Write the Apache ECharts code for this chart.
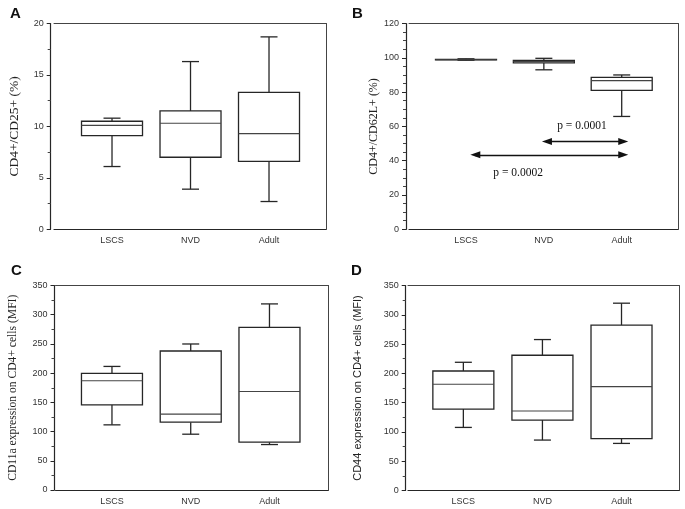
<!DOCTYPE html>
<html>
<head>
<meta charset="utf-8">
<script src="https://cdn.jsdelivr.net/npm/echarts@6/dist/echarts.min.js"></script>
<style>
  html, body { margin: 0; padding: 0; background: #fff; }
  #chart { width: 685px; height: 509px; }
</style>
</head>
<body>
<div id="chart"></div>
<script>
// ---------- data ----------
const categories = ['LSCS', 'NVD', 'Adult'];
// each row: [low whisker, Q1, median, Q3, high whisker]
const boxA = [[6.1, 9.1, 10.1, 10.5, 10.8], [3.9, 7.0, 10.3, 11.5, 16.3], [2.7, 6.6, 9.3, 13.3, 18.7]];
const boxB = [[98.6, 98.8, 98.9, 99.0, 99.4], [93.0, 97.0, 97.8, 98.5, 99.7], [65.8, 81.0, 86.7, 88.6, 90.0]];
const boxC = [[111.5, 145.8, 187.0, 199.5, 211.5], [95.5, 116.0, 129.8, 237.9, 249.9], [77.8, 81.8, 168.7, 278.4, 318.5]];
const boxD = [[107.7, 139.1, 181.3, 204.0, 218.9], [86.1, 120.3, 135.7, 230.9, 257.7], [80.4, 88.4, 177.3, 282.2, 319.8]];
const yMaxA = 20, yStepA = 5;
const yMaxB = 120, yStepB = 20;
const yMaxC = 350, yStepC = 50;
const yMaxD = 350, yStepD = 50;
const titleA = 'CD4+/CD25+ (%)';
const titleB = 'CD4+/CD62L+ (%)';
const titleC = 'CD11a expression on CD4+ cells (MFI)';
const titleD = 'CD44 expression on CD4+ cells (MFI)';
const letters = ['A', 'B', 'C', 'D'];
// panel B significance annotations (data coords)
const arrowsB = [[[2.04, 51.2], [3.02, 51.2]], [[1.12, 43.4], [3.02, 43.4]]];
const pTextsB = [[2.49, 60.0, 'p = 0.0001'], [1.67, 33.1, 'p = 0.0002']];

// ---------- layout ----------
const SERIF = 'Liberation Serif, Times New Roman, serif';
const SANS = 'Liberation Sans, Arial, sans-serif';
const panels = [
  { box: boxA, yMax: yMaxA, step: yStepA, minor: 2, title: titleA, tSize: 13.5, tFont: SERIF,
    grid: { left: 54, top: 23.5, width: 272, height: 205.8 }, xMin: 0.261, xMax: 3.726, off: 3.3, gap: 29.5, letter: [10, 6] },
  { box: boxB, yMax: yMaxB, step: yStepB, minor: 4, title: titleB, tSize: 12, tFont: SERIF,
    grid: { left: 409, top: 23.5, width: 269, height: 205.8 }, xMin: 0.268, xMax: 3.723, off: 3, gap: 25.5, letter: [352, 6] },
  { box: boxC, yMax: yMaxC, step: yStepC, minor: 2, title: titleC, tSize: 11.6, tFont: SERIF,
    grid: { left: 55.5, top: 285.5, width: 272.8, height: 204.5 }, xMin: 0.283, xMax: 3.747, off: 1, gap: 35.5, letter: [11, 263] },
  { box: boxD, yMax: yMaxD, step: yStepD, minor: 2, title: titleD, tSize: 11, tFont: SANS,
    grid: { left: 408, top: 285.5, width: 271, height: 205 }, xMin: 0.30, xMax: 3.727, off: 2.3, gap: 42, letter: [351, 263] }
];

const LINE = '#262626';
const tickFont = { fontFamily: SANS, fontSize: 9, color: '#333' };

function renderBox(params, api) {
  const x = api.value(0);
  const low = api.value(1), q1 = api.value(2), med = api.value(3), q3 = api.value(4), high = api.value(5);
  const c = api.coord([x, med]);
  const pLow = api.coord([x, low])[1], pQ1 = api.coord([x, q1])[1], pMed = c[1];
  const pQ3 = api.coord([x, q3])[1], pHigh = api.coord([x, high])[1];
  const hw = 30.5, cw = 8.5, cx = c[0];
  const st = { stroke: LINE, lineWidth: 1.3, fill: null };
  return {
    type: 'group',
    children: [
      { type: 'line', shape: { x1: cx, y1: pQ3, x2: cx, y2: pHigh }, style: st },
      { type: 'line', shape: { x1: cx, y1: pQ1, x2: cx, y2: pLow }, style: st },
      { type: 'line', shape: { x1: cx - cw, y1: pHigh, x2: cx + cw, y2: pHigh }, style: st },
      { type: 'line', shape: { x1: cx - cw, y1: pLow, x2: cx + cw, y2: pLow }, style: st },
      { type: 'rect', shape: { x: cx - hw, y: pQ3, width: 2 * hw, height: pQ1 - pQ3 }, style: { stroke: LINE, lineWidth: 1.3, fill: '#fff' } },
      { type: 'line', shape: { x1: cx - hw, y1: pMed, x2: cx + hw, y2: pMed }, style: { stroke: '#444', lineWidth: 1.1 } }
    ]
  };
}

const grid = [], xAxis = [], yAxis = [], series = [], graphic = [];
panels.forEach((p, i) => {
  grid.push(Object.assign({ containLabel: false }, p.grid));
  xAxis.push({
    type: 'value', gridIndex: i, min: p.xMin, max: p.xMax,
    splitLine: { show: false },
    axisLine: { show: true, lineStyle: { color: LINE, width: 1.2 } },
    axisTick: { show: false },
    axisLabel: Object.assign({ customValues: [1, 2, 3], margin: 7, formatter: v => categories[Math.round(v) - 1] || '' }, tickFont)
  });
  xAxis.push({
    type: 'value', gridIndex: i, position: 'top', min: p.xMin, max: p.xMax,
    splitLine: { show: false }, axisTick: { show: false }, axisLabel: { show: false },
    axisLine: { show: true, onZero: false, lineStyle: { color: '#444', width: 1 } }
  });
  yAxis.push({
    type: 'value', gridIndex: i, min: 0, max: p.yMax, interval: p.step, offset: p.off,
    name: p.title, nameLocation: 'middle', nameGap: p.gap,
    nameTextStyle: { fontFamily: p.tFont, fontSize: p.tSize, color: '#222' },
    splitLine: { show: false },
    axisLine: { show: true, onZero: false, lineStyle: { color: LINE, width: 1.2 } },
    axisTick: { show: true, length: 4, lineStyle: { color: LINE } },
    minorTick: { show: true, splitNumber: p.minor, length: 3, lineStyle: { color: '#444' } },
    axisLabel: Object.assign({ margin: 7 }, tickFont)
  });
  yAxis.push({
    type: 'value', gridIndex: i, position: 'right', min: 0, max: p.yMax,
    splitLine: { show: false }, axisTick: { show: false }, axisLabel: { show: false },
    axisLine: { show: true, onZero: false, lineStyle: { color: '#444', width: 1 } }
  });
  const s = {
    type: 'custom', xAxisIndex: 2 * i, yAxisIndex: 2 * i,
    renderItem: renderBox,
    encode: { x: 0, y: [1, 2, 3, 4, 5] },
    data: p.box.map((d, k) => [k + 1].concat(d)),
    silent: true, animation: false, z: 3
  };
  if (i === 1) {
    s.markLine = {
      silent: true, animation: false,
      symbol: ['triangle', 'triangle'], symbolSize: [7, 10],
      lineStyle: { color: '#111', width: 1.3, type: 'solid' },
      label: { show: false },
      data: arrowsB.map(a => [{ coord: a[0] }, { coord: a[1] }])
    };
  }
  series.push(s);
  graphic.push({
    type: 'text', left: p.letter[0], top: p.letter[1],
    style: { text: letters[i], font: 'bold 15px Liberation Sans, Arial, sans-serif', fill: '#111' }
  });
});

series.push({
  type: 'custom', xAxisIndex: 2, yAxisIndex: 2, silent: true, animation: false, z: 4,
  encode: { x: 0, y: 1 },
  data: pTextsB,
  renderItem: (params, api) => {
    const c = api.coord([api.value(0), api.value(1)]);
    return {
      type: 'text', x: c[0], y: c[1],
      style: { text: pTextsB[params.dataIndex][2], font: '11.5px ' + SERIF,
               fill: '#111', align: 'center', verticalAlign: 'middle' }
    };
  }
});

const chart = echarts.init(document.getElementById('chart'), null, { renderer: 'canvas' });
chart.setOption({ animation: false, backgroundColor: '#fff', grid, xAxis, yAxis, series, graphic });
</script>
</body>
</html>
